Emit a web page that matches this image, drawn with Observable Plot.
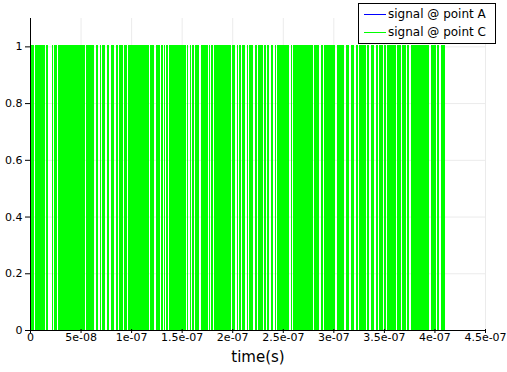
<!DOCTYPE html>
<html><head><meta charset="utf-8">
<script src="https://cdn.jsdelivr.net/npm/d3@7"></script>
<script src="https://cdn.jsdelivr.net/npm/@observablehq/plot@0.6"></script>
<style>
body{margin:0;background:#fff;font-family:"DejaVu Sans",sans-serif}
#wrap{position:relative;width:507px;height:372px;overflow:hidden}
#legend{position:absolute;left:358px;top:3px;width:136px;height:39px;border:1px solid #000;background:#fff;font-size:12px;color:#000}
.sw{position:absolute;left:5px;width:22px;height:0;border-top:1px solid}
.lb{position:absolute;left:29px;white-space:nowrap;line-height:14px}
</style></head>
<body><div id="wrap"></div>
<script>
const seriesNames = ["signal @ point A", "signal @ point C"];
const seriesColors = ["#0000ff", "#00ff00"];
// signal C: rapid toggling between 0 and 1, with short held stretches (gaps), in ns
const signalStartNs = 0;
const signalEndNs = 410.4;
const gapCentersNs = [4.6, 15.5, 18.8, 20.8, 23.0, 27.0, 55.1, 64.3, 68.2, 70.5, 75.2, 79.1, 84.1, 87.7, 92.3, 96.6,
  118.4, 123.6, 129.3, 132.2, 134.2, 136.8, 154.6, 157.3, 159.9, 162.5, 168.1, 176.3, 178.7, 181.3,
  199.1, 203.7, 206.4, 209.0, 213.6, 215.9, 221.5, 224.8, 230.7, 234.1, 237.4, 241.3, 244.0,
  257.1, 259.8, 280.2, 286.8, 290.1, 302.6, 311.5, 316.5, 321.4, 324.7, 333.0, 336.3, 341.2, 344.5,
  349.4, 352.8, 362.7, 367.6, 372.6, 375.8, 395.6, 402.2, 405.5];
const gapWidthNs = 1.4;
const yTicks = [0, 0.2, 0.4, 0.6, 0.8, 1];
const yTickLabels = ["0", "0.2", "0.4", "0.6", "0.8", "1"];
const xTicks = [0, 5e-8, 1e-7, 1.5e-7, 2e-7, 2.5e-7, 3e-7, 3.5e-7, 4e-7, 4.5e-7];
const xTickLabels = ["0", "5e-08", "1e-07", "1.5e-07", "2e-07", "2.5e-07", "3e-07", "3.5e-07", "4e-07", "4.5e-07"];
const xLabel = "time(s)";

// busy (solid) stretches between the held gaps
const starts = [signalStartNs, ...gapCentersNs.map(g => g + gapWidthNs / 2)];
const ends = [...gapCentersNs.map(g => g - gapWidthNs / 2), signalEndNs];
const busy = starts.map((s, i) => ({t0: s * 1e-9, t1: ends[i] * 1e-9}));

const yMap = new Map(yTicks.map((v, i) => [v, yTickLabels[i]]));
const xMap = new Map(xTicks.map((v, i) => [v, xTickLabels[i]]));

const chart = Plot.plot({
  width: 507, height: 372,
  marginLeft: 30, marginRight: 22, marginTop: 18, marginBottom: 42,
  style: {fontFamily: "DejaVu Sans, sans-serif", fontSize: "11px", color: "#000", background: "#fff"},
  x: {domain: [0, 4.5e-7]},
  y: {domain: [0, 1.1]},
  marks: [
    Plot.gridY(yTicks.slice(1), {stroke: "#ebebeb", strokeOpacity: 1}),
    Plot.gridX(xTicks.slice(1), {stroke: "#ebebeb", strokeOpacity: 1}),
    Plot.rect(busy, {x1: "t0", x2: "t1", y1: 0, y2: 1, fill: seriesColors[1], insetTop: -1.5, shapeRendering: "crispEdges"}),
    Plot.axisY(yTicks, {tickSize: 5, tickPadding: 3, tickFormat: d => yMap.get(d), label: null, fontSize: 11}),
    Plot.axisX(xTicks, {tickSize: 4, tickPadding: 0, tickFormat: d => xMap.get(d), label: null, fontSize: 11, dy: -1}),
    Plot.ruleX([0], {stroke: "#000"}),
    Plot.ruleY([0], {stroke: "#000"}),
    Plot.text([xLabel], {frameAnchor: "bottom", dy: 27, fontSize: 15, lineAnchor: "middle"})
  ]
});
const wrap = document.getElementById("wrap");
wrap.appendChild(chart);
const lg = document.createElement("div");
lg.id = "legend";
seriesNames.forEach((n, i) => {
  const sw = document.createElement("div");
  sw.className = "sw";
  sw.style.top = (10 + i * 18) + "px";
  sw.style.borderColor = seriesColors[i];
  lg.appendChild(sw);
  const lb = document.createElement("div");
  lb.className = "lb";
  lb.style.top = (3 + i * 18) + "px";
  lb.textContent = n;
  lg.appendChild(lb);
});
wrap.appendChild(lg);
</script></body></html>
